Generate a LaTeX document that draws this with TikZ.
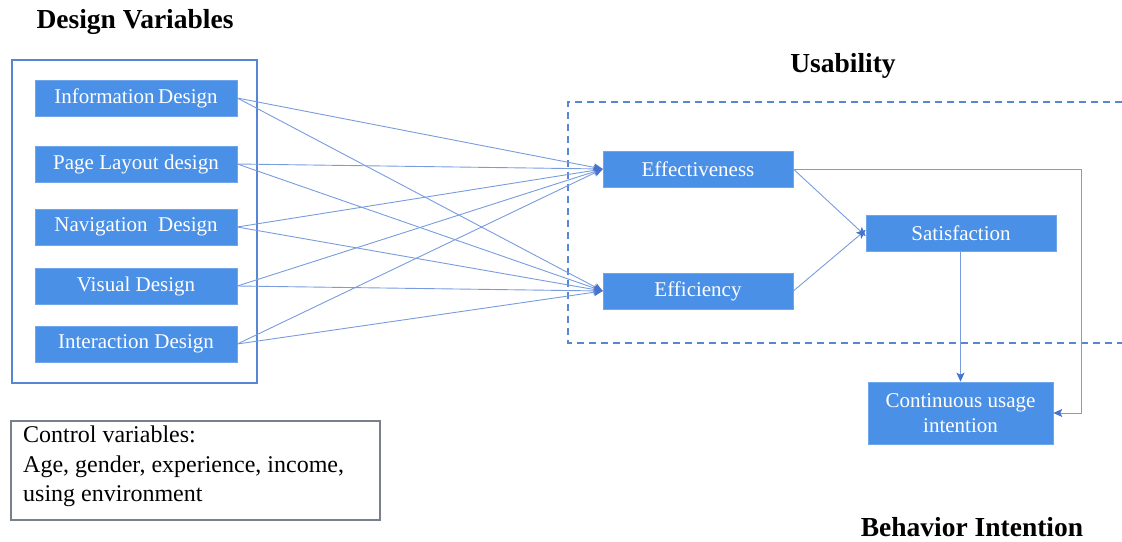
\documentclass[tikz,border=0pt]{standalone}
\usepackage{fontspec}
\setmainfont{Liberation Serif}
\usetikzlibrary{arrows.meta}
\definecolor{boxblue}{RGB}{74,144,230}
\definecolor{boxedge}{RGB}{110,165,235}
\definecolor{linkblue}{RGB}{120,156,222}
\definecolor{tipblue}{RGB}{70,115,205}
\definecolor{frameblue}{RGB}{88,134,214}
\definecolor{framegray}{RGB}{120,128,140}
\tikzset{
  varbox/.style={fill=boxblue, draw=boxedge, line width=0.6pt, text=white,
    minimum height=36pt, inner sep=0pt, font=\fontsize{21}{25}\selectfont},
  heading/.style={font=\bfseries\fontsize{27.5}{31}\selectfont, inner sep=0pt},
  link/.style={draw=linkblue, line width=0.9pt},
  tip/.style={-{Stealth[length=9pt,width=8pt,inset=2pt,color=tipblue]}},
  frame/.style={draw=frameblue, line width=1.4pt},
  dashframe/.style={draw=frameblue, line width=1.5pt, dash pattern=on 7pt off 5pt},
}
\begin{document}
\begin{tikzpicture}[x=1pt,y=-1pt]
\useasboundingbox (0,0) rectangle (1122,541);

% headings
\node[heading] (hdv) at (135,22) {Design Variables};
\node[heading] (husa) at (843,66) {Usability};
\node[heading] (hbi) at (972,527) {Behavior Intention};

% frame round the design variables
\draw[frame] (12,60) rectangle (257,383);

% usability group (open on the right)
\draw[dashframe] (1122,102) -- (568,102) -- (568,343) -- (1122,343);

% design variables
\node[varbox, minimum width=202pt] (info) at (136,98) {Information\,Design};
\node[varbox, minimum width=202pt] (page) at (136,164) {Page Layout design\hspace{10pt}};
\node[varbox, minimum width=202pt] (navi) at (136,227) {Navigation\ \ Design};
\node[varbox, minimum width=202pt] (visu) at (136,286) {Visual Design};
\node[varbox, minimum width=202pt] (inte) at (136,344) {Interaction Design};

% usability constructs
\node[varbox, minimum width=190pt] (effe) at (698,169) {Effectiveness};
\node[varbox, minimum width=190pt] (effi) at (698,291) {Efficiency};
\node[varbox, minimum width=190pt] (sati) at (961,233) {Satisfaction};

% behaviour intention
\node[varbox, minimum width=185pt, minimum height=62pt, align=center,
      font=\fontsize{21}{25}\selectfont] (cont) at (960.5,413)
      {Continuous usage\\intention};

% control variables
\node[draw=framegray, line width=1.2pt, minimum width=369pt, minimum height=99pt,
      inner sep=0pt] (ctrl) at (195.5,470.5) {};
\node[anchor=north west, align=left, inner sep=0pt,
      font=\fontsize{24}{29.5}\selectfont] (ctext) at (23,426)
      {Control variables:\\Age, gender, experience, income,\\using environment};

% design variables -> effectiveness / efficiency
\foreach \s in {info,page,navi,visu,inte} {
  \draw[link, tip] (\s.east) -- (effe.west);
  \draw[link, tip] (\s.east) -- (effi.west);
}

% effectiveness / efficiency -> satisfaction
\draw[link, tip] (effe.east) -- ([yshift=-3pt]sati.west);
\draw[link, tip] (effi.east) -- ([yshift=3pt]sati.west);

% satisfaction -> continuous usage intention
\draw[link, tip] (sati.south -| cont.north) -- (cont.north);

% effectiveness -> continuous usage intention (around the right side)
\coordinate (bendA) at (1081,169);
\coordinate (bendB) at (1081,413);
\draw[link, tip] (effe.east) -- (bendA) -- (bendB) -- (cont.east);
\end{tikzpicture}
\end{document}
